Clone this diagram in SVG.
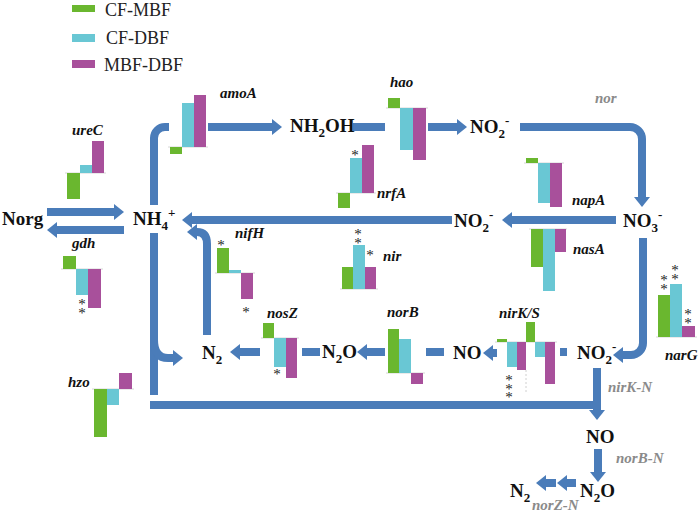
<svg xmlns="http://www.w3.org/2000/svg" width="700" height="513" viewBox="0 0 700 513">
<defs>
<marker id="ah" viewBox="0 0 10 16" refX="1" refY="8" markerWidth="1.25" markerHeight="2" markerUnits="strokeWidth" orient="auto">
<path d="M0,0 L10,8 L0,16 z" fill="#4a7cb9"/>
</marker>
<style>
.c{fill:none;stroke:#4a7cb9;stroke-width:8}
.n{font-family:"Liberation Serif","Times New Roman",serif;font-weight:bold;font-size:19px;fill:#111}
.sb{font-size:13px}
.g{font-family:"Liberation Serif","Times New Roman",serif;font-weight:bold;font-style:italic;font-size:15px;fill:#111}
.gr{font-family:"Liberation Serif","Times New Roman",serif;font-weight:bold;font-style:italic;font-size:15px;fill:#8a8a8a}
.lg{font-family:"Liberation Serif","Times New Roman",serif;font-size:18px;fill:#222}
.s{font-family:"Liberation Serif","Times New Roman",serif;font-size:15px;fill:#222;text-anchor:middle}
.v{font-family:"Liberation Serif","Times New Roman",serif;font-size:15px;fill:#222;writing-mode:vertical-rl;text-orientation:upright;letter-spacing:-7.5px}
.G{fill:#6ab72f}
.C{fill:#69c7d4}
.M{fill:#a8509b}
.b{stroke:#d6d6d6;stroke-width:1}
</style>
</defs>
<rect width="700" height="513" fill="#fff"/>

<g id="legend">
<rect class="G" x="72" y="5" width="23" height="7"/>
<text class="lg" x="105" y="16">CF-MBF</text>
<rect class="C" x="72" y="34" width="23" height="8"/>
<text class="lg" x="106" y="44">CF-DBF</text>
<rect class="M" x="72" y="60" width="23" height="8"/>
<text class="lg" x="104" y="71">MBF-DBF</text>
</g>

<g id="connectors">
<path class="c" d="M47,212 H115" marker-end="url(#ah)"/>
<path class="c" d="M124,230 H56" marker-end="url(#ah)"/>
<path class="c" d="M169,127 H165 A11,11 0 0 0 154,138 V205"/>
<path class="c" d="M154,233 V395"/>
<path class="c" d="M154,340 Q154,358 168,358 H174" marker-end="url(#ah)"/>
<path class="c" d="M150,405 H601"/>
<path class="c" d="M597,368 V411" marker-end="url(#ah)"/>
<path class="c" d="M208,127 H273" marker-end="url(#ah)"/>
<path class="c" d="M353,127 H385"/>
<path class="c" d="M428,127 H458" marker-end="url(#ah)"/>
<path class="c" d="M520,127 H630 A12,12 0 0 1 642,139 V198" marker-end="url(#ah)"/>
<path class="c" d="M616,220 H511" marker-end="url(#ah)"/>
<path class="c" d="M452,220 H191" marker-end="url(#ah)"/>
<path class="c" d="M643,238 V343 A12,12 0 0 1 631,355 H622" marker-end="url(#ah)"/>
<path class="c" d="M560,352 H567"/>
<path class="c" d="M497,353 H492" marker-end="url(#ah)"/>
<path class="c" d="M426,352 H444"/>
<path class="c" d="M385,352 H366" marker-end="url(#ah)"/>
<path class="c" d="M302,352 H320"/>
<path class="c" d="M260,352 H239" marker-end="url(#ah)"/>
<path class="c" d="M207,335 V244 Q207,232 197,232 H196" marker-end="url(#ah)"/>
<path class="c" d="M598,449 V473" marker-end="url(#ah)"/>
<path class="c" d="M576,483 H566" marker-end="url(#ah)"/>
<path class="c" d="M556,483 H545" marker-end="url(#ah)"/>
</g>

<g id="Norg"><text class="n" x="2" y="225">Norg</text></g>
<g id="NH4"><text class="n" x="133" y="225">NH<tspan class="sb" dy="5">4</tspan><tspan class="sb" dy="-13">+</tspan></text></g>
<g id="NH2OH"><text class="n" x="290" y="132">NH<tspan class="sb" dy="5">2</tspan><tspan dy="-5">OH</tspan></text></g>
<g id="NO2-top"><text class="n" x="470" y="133">NO<tspan class="sb" dy="5">2</tspan><tspan class="sb" dy="-13">-</tspan></text></g>
<g id="NO3"><text class="n" x="623" y="227">NO<tspan class="sb" dy="5">3</tspan><tspan class="sb" dy="-13">-</tspan></text></g>
<g id="NO2-mid"><text class="n" x="454" y="227">NO<tspan class="sb" dy="5">2</tspan><tspan class="sb" dy="-13">-</tspan></text></g>
<g id="NO2-bot"><text class="n" x="577" y="359">NO<tspan class="sb" dy="5">2</tspan><tspan class="sb" dy="-13">-</tspan></text></g>
<g id="NO-mid"><text class="n" x="453" y="359">NO</text></g>
<g id="N2O-mid"><text class="n" x="322" y="358">N<tspan class="sb" dy="5">2</tspan><tspan dy="-5">O</tspan></text></g>
<g id="N2-mid"><text class="n" x="202" y="359">N<tspan class="sb" dy="5">2</tspan></text></g>
<g id="NO-bot"><text class="n" x="586" y="443">NO</text></g>
<g id="N2O-bot"><text class="n" x="580" y="497">N<tspan class="sb" dy="5">2</tspan><tspan dy="-5">O</tspan></text></g>
<g id="N2-bot"><text class="n" x="510" y="497">N<tspan class="sb" dy="5">2</tspan></text></g>

<g id="label-nor"><text class="gr" x="595" y="103">nor</text></g>
<g id="label-nirK-N"><text class="gr" x="608" y="392">nirK-N</text></g>
<g id="label-norB-N"><text class="gr" x="616" y="463">norB-N</text></g>
<g id="label-norZ-N"><text class="gr" x="532" y="510">norZ-N</text></g>

<g id="chart-amoA">
<line class="b" x1="168" y1="147" x2="208" y2="147"/>
<rect class="G" x="170" y="147" width="12" height="7"/>
<rect class="C" x="182" y="103" width="12" height="44"/>
<rect class="M" x="194" y="95" width="12" height="52"/>
<text class="g" x="220" y="98">amoA</text>
</g>

<g id="chart-hao">
<line class="b" x1="386" y1="108" x2="428" y2="108"/>
<rect class="G" x="388" y="98" width="12" height="10"/>
<rect class="C" x="400" y="108" width="13" height="42"/>
<rect class="M" x="413" y="108" width="13" height="52"/>
<text class="g" x="390" y="87">hao</text>
</g>

<g id="chart-nrfA">
<line class="b" x1="336" y1="193" x2="376" y2="193"/>
<rect class="G" x="338" y="193" width="12" height="15"/>
<rect class="C" x="350" y="158" width="12" height="35"/>
<rect class="M" x="362" y="145" width="12" height="48"/>
<text class="s" x="355" y="160">*</text>
<text class="g" x="377" y="198">nrfA</text>
</g>

<g id="chart-napA">
<line class="b" x1="524" y1="163" x2="564" y2="163"/>
<rect class="G" x="526" y="158" width="12" height="5"/>
<rect class="C" x="538" y="163" width="12" height="40"/>
<rect class="M" x="550" y="163" width="12" height="44"/>
<text class="g" x="572" y="205">napA</text>
</g>

<g id="chart-nasA">
<line class="b" x1="529" y1="229" x2="567" y2="229"/>
<rect class="G" x="531" y="229" width="12" height="38"/>
<rect class="C" x="543" y="229" width="12" height="62"/>
<rect class="M" x="555" y="229" width="11" height="23"/>
<text class="g" x="573" y="254">nasA</text>
</g>

<g id="chart-narG">
<line class="b" x1="656" y1="337" x2="697" y2="337"/>
<rect class="G" x="658" y="295" width="12" height="42"/>
<rect class="C" x="670" y="284" width="12" height="53"/>
<rect class="M" x="682" y="326" width="13" height="11"/>
<text class="v" x="664" y="272">**</text>
<text class="v" x="675" y="262">**</text>
<text class="v" x="688" y="306">**</text>
<text class="g" x="665" y="360">narG</text>
</g>

<g id="chart-nirKS">
<line class="b" x1="495" y1="342" x2="557" y2="342"/>
<rect class="G" x="497" y="339" width="10" height="3"/>
<rect class="C" x="507" y="342" width="10" height="25"/>
<rect class="M" x="517" y="342" width="9" height="28"/>
<rect class="G" x="526" y="322" width="9" height="20"/>
<rect class="C" x="535" y="342" width="10" height="15"/>
<rect class="M" x="545" y="342" width="10" height="42"/>
<line x1="526" y1="370" x2="526" y2="393" stroke="#d0d0d0" stroke-width="1" stroke-dasharray="2,2"/>
<text class="v" x="509" y="372">***</text>
<text class="g" x="499" y="318">nirK/S</text>
</g>

<g id="chart-norB">
<line class="b" x1="386" y1="373" x2="425" y2="373"/>
<rect class="G" x="388" y="329" width="11" height="44"/>
<rect class="C" x="399" y="339" width="12" height="34"/>
<rect class="M" x="411" y="373" width="12" height="11"/>
<text class="g" x="387" y="317">norB</text>
</g>

<g id="chart-nosZ">
<line class="b" x1="261" y1="338" x2="299" y2="338"/>
<rect class="G" x="263" y="323" width="11" height="15"/>
<rect class="C" x="274" y="338" width="12" height="29"/>
<rect class="M" x="286" y="338" width="11" height="40"/>
<text class="s" x="277" y="379">*</text>
<text class="g" x="267" y="318">nosZ</text>
</g>

<g id="chart-nifH">
<line class="b" x1="215" y1="273" x2="255" y2="273"/>
<rect class="G" x="217" y="248" width="12" height="25"/>
<rect class="C" x="229" y="270" width="12" height="3"/>
<rect class="M" x="241" y="273" width="12" height="26"/>
<text class="s" x="221" y="250">*</text>
<text class="s" x="246" y="317">*</text>
<text class="g" x="235" y="238">nifH</text>
</g>

<g id="chart-nir">
<line class="b" x1="340" y1="289" x2="378" y2="289"/>
<rect class="G" x="342" y="267" width="11" height="22"/>
<rect class="C" x="353" y="245" width="12" height="44"/>
<rect class="M" x="365" y="267" width="11" height="22"/>
<text class="v" x="358" y="226">**</text>
<text class="s" x="370" y="260">*</text>
<text class="g" x="383" y="261">nir</text>
</g>

<g id="chart-ureC">
<line class="b" x1="65" y1="173" x2="106" y2="173"/>
<rect class="G" x="67" y="173" width="13" height="26"/>
<rect class="C" x="80" y="165" width="12" height="8"/>
<rect class="M" x="92" y="141" width="12" height="32"/>
<text class="g" x="72" y="135">ureC</text>
</g>

<g id="chart-gdh">
<line class="b" x1="61" y1="269" x2="103" y2="269"/>
<rect class="G" x="63" y="256" width="13" height="13"/>
<rect class="C" x="76" y="269" width="12" height="26"/>
<rect class="M" x="88" y="269" width="13" height="39"/>
<text class="v" x="82" y="296">**</text>
<text class="g" x="72" y="248">gdh</text>
</g>

<g id="chart-hzo">
<line class="b" x1="92" y1="389" x2="134" y2="389"/>
<rect class="G" x="94" y="389" width="13" height="48"/>
<rect class="C" x="107" y="389" width="12" height="16"/>
<rect class="M" x="119" y="373" width="13" height="16"/>
<text class="g" x="68" y="387">hzo</text>
</g>
</svg>
